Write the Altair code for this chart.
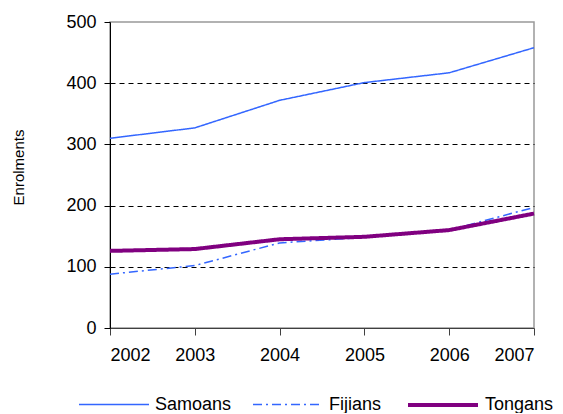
import altair as alt
import pandas as pd

years = [2002, 2003, 2004, 2005, 2006, 2007]
samoans = [310, 327, 372, 401, 417, 458]
fijians = [88, 102, 139, 148, 160, 197]
tongans = [126, 129, 145, 149, 160, 187]

series_names = ["Samoans", "Fijians", "Tongans"]
series_values = [samoans, fijians, tongans]

rows = []
for name, vals in zip(series_names, series_values):
    for yr, v in zip(years, vals):
        rows.append({"year": yr, "value": v, "series": name})
df = pd.DataFrame(rows)

colors = ["#3366ff", "#3366ff", "#800080"]
dashes = [[1, 0], [9, 4, 2, 4], [1, 0]]
widths = [1.5, 1.5, 4]

base = alt.Chart(df)

lines = base.mark_line(clip=False).encode(
    x=alt.X("year:Q",
            scale=alt.Scale(domain=[2002, 2007], nice=False, zero=False),
            axis=alt.Axis(values=years, format="d", title=None, grid=False,
                          domainColor="#404040", tickColor="#404040",
                          tickSize=7, labelPadding=11)),
    y=alt.Y("value:Q",
            scale=alt.Scale(domain=[0, 500], nice=False),
            axis=alt.Axis(values=[0, 100, 200, 300, 400, 500], title="Enrolments",
                          domainColor="black", tickColor="black", tickSize=6,
                          labelPadding=8,
                          gridColor={"condition": {"test": "datum.value === 500 || datum.value === 0", "value": "transparent"}, "value": "black"},
                          gridDash=[5, 4], gridWidth=1,
                          titleFontSize=15, titleFontWeight="normal",
                          titleAngle=-90, titleX=-92, titleY=145,
                          titleAlign="center", titleBaseline="middle")),
    color=alt.Color("series:N", scale=alt.Scale(domain=series_names, range=colors),
                    legend=alt.Legend(title=None)),
    strokeDash=alt.StrokeDash("series:N", scale=alt.Scale(domain=series_names, range=dashes),
                              legend=alt.Legend(title=None)),
    strokeWidth=alt.StrokeWidth("series:N",
                                scale=alt.Scale(type="ordinal", domain=series_names, range=widths),
                                legend=alt.Legend(title=None)),
    order=alt.Order("year:Q"),
)

chart = lines.properties(
    width=424, height=306,
    autosize=alt.AutoSizeParams(type="none"),
    padding={"left": 102, "top": 14, "right": 21, "bottom": 85},
).configure(
    font="Liberation Sans",
).configure_axis(
    labelFontSize=18, labelColor="black", labelFont="Liberation Sans",
    titleColor="black", titleFont="Liberation Sans",
).configure_view(
    stroke="#999999", strokeWidth=1.5,
).configure_legend(
    orient="none", legendX=-32, legendY=346, direction="horizontal",
    symbolType="stroke", symbolSize=4900, labelFontSize=18, labelColor="black",
    labelFont="Liberation Sans", labelOffset=5, columnPadding=18,
    symbolFillColor="transparent",
)

chart.save("out.html", embed_options={"renderer": "svg", "actions": False})
